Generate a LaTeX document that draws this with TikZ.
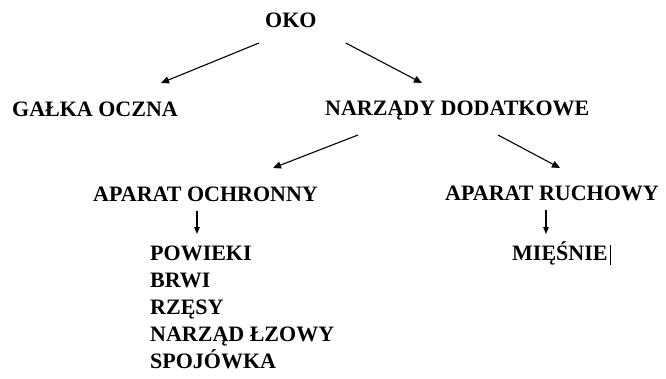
\documentclass[tikz,border=0pt]{standalone}
\usepackage{fontspec}
\setmainfont{Liberation Serif}
\usetikzlibrary{arrows.meta}

\begin{document}
\begin{tikzpicture}[x=1pt,y=-1pt,
        nd/.style={inner sep=0pt,anchor=base west,
                   font=\bfseries\fontsize{22}{27}\selectfont},
        arr/.style={-{Triangle[length=8pt,width=7pt]},line width=1.1pt},
        arrd/.style={-{Triangle[length=7pt,width=5.5pt]},line width=1.1pt}
      ]
        \useasboundingbox (0,0) rectangle (666,378);
        \node[nd] (oko) at (265,27) {OKO};
        \node[nd] (galka) at (12,116) {GAŁKA OCZNA};
        \node[nd] (narzady) at (325,115) {NARZĄDY DODATKOWE};
        \node[nd] (ochronny) at (93,201) {APARAT OCHRONNY};
        \node[nd] (ruchowy) at (445,200) {APARAT RUCHOWY};
        \node[nd] (powieki) at (150,260) {POWIEKI};
        \node[nd] (brwi) at (150,287) {BRWI};
        \node[nd] (rzesy) at (150,314) {RZĘSY};
        \node[nd] (lzowy) at (150,341) {NARZĄD ŁZOWY};
        \node[nd] (spojowka) at (150,368) {SPOJÓWKA};
        \node[nd] (miesnie) at (512,260) {MIĘŚNIE\hspace{2pt}\rule[-5pt]{1.6pt}{20pt}};
        \draw[arr] ([shift={(-6,16)}]oko.base west)--([shift={(149,-33)}]galka.base west);
        \draw[arr] ([shift={(29,16)}]oko.base east)--([shift={(97,-32)}]narzady.base west);
        \draw[arr] ([shift={(33,20)}]narzady.base west)--([shift={(180,-33)}]ochronny.base west);
        \draw[arr] ([shift={(173,20)}]narzady.base west)--([shift={(115,-32)}]ruchowy.base west);
        \draw[arrd] ([shift={(104,10)}]ochronny.base west)--([shift={(47,-26)}]powieki.base west);
        \draw[arrd] ([shift={(101,10)}]ruchowy.base west)--([shift={(34,-26)}]miesnie.base west);
      \end{tikzpicture}
\end{document}
